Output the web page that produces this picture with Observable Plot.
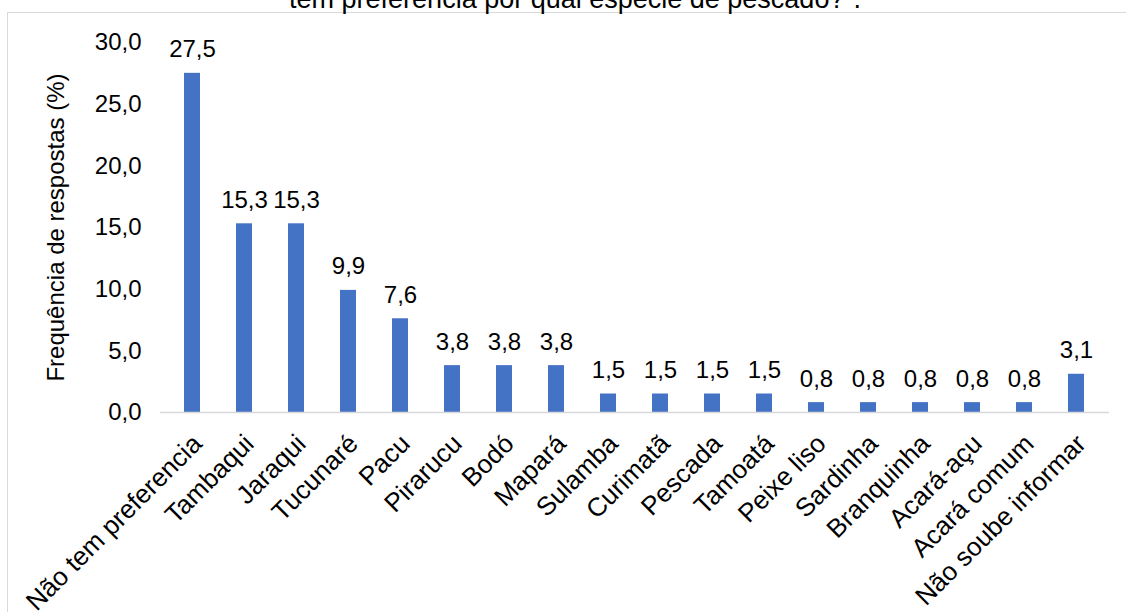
<!DOCTYPE html>
<html>
<head>
<meta charset="utf-8">
<script src="https://cdn.jsdelivr.net/npm/d3@7"></script>
<script src="https://cdn.jsdelivr.net/npm/@observablehq/plot@0.6"></script>
<style>
  html, body { margin: 0; padding: 0; background: #fff; overflow: hidden; }
  #wrap { position: relative; width: 1126px; height: 612px; overflow: hidden; font-family: "Liberation Sans", Arial, sans-serif; }
  #frame { position: absolute; left: 7px; top: 12px; width: 1300px; height: 800px; border: 1.5px solid #d9d9d9; box-sizing: border-box; }
  #title { position: absolute; left: 0; width: 1150px; top: -14px; text-align: center; font-size: 27px; line-height: 27px; color: #000; white-space: nowrap; }
  #chart { position: absolute; left: 0; top: 0; }
</style>
</head>
<body>
<div id="wrap">
  <div id="frame"></div>
  <div id="title">tem preferência por qual espécie de pescado?”.</div>
  <div id="chart"></div>
</div>
<script>
const categorias = ["Não tem preferencia", "Tambaqui", "Jaraqui", "Tucunaré", "Pacu", "Pirarucu", "Bodó", "Mapará", "Sulamba", "Curimatã", "Pescada", "Tamoatá", "Peixe liso", "Sardinha", "Branquinha", "Acará-açu", "Acará comum", "Não soube informar"];
const valores = [27.5, 15.3, 15.3, 9.9, 7.6, 3.8, 3.8, 3.8, 1.5, 1.5, 1.5, 1.5, 0.8, 0.8, 0.8, 0.8, 0.8, 3.1];
const yTicks = [0, 5, 10, 15, 20, 25, 30];
const yTitulo = "Frequência de respostas (%)";

const dados = categorias.map((c, i) => ({categoria: c, valor: valores[i]}));
const fmt = v => v.toFixed(1).replace(".", ",");
const FS = 24;
const FSX = 26;

const chart = Plot.plot({
  width: 1126,
  height: 612,
  marginLeft: 160,
  marginRight: 17,
  marginTop: 42,
  marginBottom: 200,
  style: {fontFamily: "'Liberation Sans', Arial, sans-serif", fontSize: FS + "px", color: "#000", background: "transparent"},
  x: {domain: categorias, paddingInner: 0.69, paddingOuter: 0.345, label: null, axis: null},
  y: {domain: [0, 30], label: null, axis: null},
  marks: [
    Plot.barY(dados, {x: "categoria", y: "valor", fill: "#4472C4"}),
    Plot.ruleY([0], {stroke: "#d9d9d9", strokeWidth: 1.5}),
    Plot.axisY({ticks: yTicks, tickSize: 0, tickPadding: 19, tickFormat: fmt, label: null, fontSize: FS}),
    Plot.text([yTitulo], {frameAnchor: "left", rotate: -90, dx: -97, textAnchor: "middle", lineAnchor: "bottom", fontSize: FS}),
    Plot.text(dados, {x: "categoria", y: () => 0, text: "categoria", rotate: -45, textAnchor: "end", lineAnchor: "middle", dx: 5, dy: 27, fontSize: FSX}),
    Plot.text(dados, {x: "categoria", y: "valor", text: d => fmt(d.valor), dy: -16, lineAnchor: "bottom", fontSize: FS})
  ]
});
document.getElementById("chart").appendChild(chart);
</script>
</body>
</html>
